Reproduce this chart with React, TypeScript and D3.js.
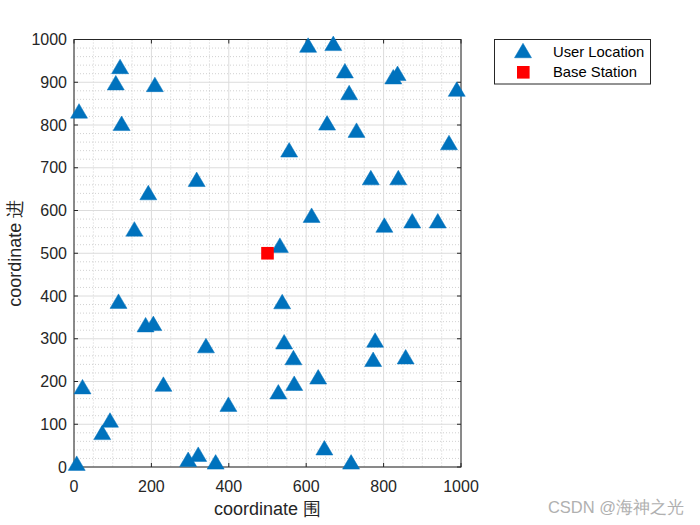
import React from "react";
import * as d3 from "d3";

const userX = [119, 108, 209, 13, 123, 317, 192, 605, 670, 700, 825, 836, 989, 711, 654, 730, 969, 556, 767, 838, 614, 156, 115, 185, 205, 341, 22, 231, 802, 874, 940, 532, 538, 543, 778, 567, 773, 857, 569, 631, 528, 399, 93, 73, 7, 295, 321, 366, 647, 716];
const userY = [937, 899, 895, 833, 804, 673, 642, 987, 991, 927, 913, 921, 884, 876, 805, 788, 759, 742, 677, 677, 589, 557, 388, 333, 336, 284, 188, 194, 566, 576, 576, 519, 387, 293, 297, 256, 252, 258, 196, 211, 176, 147, 110, 81, 9, 18, 30, 12, 45, 12];
const baseX = [500];
const baseY = [500];
const xTicks = [0, 200, 400, 600, 800, 1000];
const yTicks = [0, 100, 200, 300, 400, 500, 600, 700, 800, 900, 1000];
const legendLabels = ["User Location", "Base Station"];

const L = 74, R = 461, T = 39.5, B = 467;
const FONT = "'Liberation Sans', Arial, Helvetica, sans-serif";
const AX = "#262626";
const BLUE = "#0072BD";

function tri(cx: number, cy: number, w = 17, h = 14.5) {
  return `M${cx - w / 2},${cy + h / 2}L${cx + w / 2},${cy + h / 2}L${cx},${cy - h / 2}Z`;
}

export default function App() {
  const x = d3.scaleLinear().domain([0, 1000]).range([L, R]);
  const y = d3.scaleLinear().domain([0, 1000]).range([B, T]);
  const minorX = d3.range(0, 1001, 50).filter((v) => v % 200 !== 0);
  const minorY = d3.range(0, 1001, 20).filter((v) => v % 100 !== 0);

  return (
    <svg width={700} height={525} style={{ position: "absolute", left: 0, top: 0, background: "#fff" }} fontFamily={FONT}>
      <rect x={0} y={0} width={700} height={525} fill="#fff" />
      <rect x={L} y={T} width={R - L} height={B - T} fill="#fff" />
      {/* minor grid */}
      {minorX.map((v) => (
        <line key={"mx" + v} x1={x(v)} x2={x(v)} y1={T} y2={B} stroke="#bdbdbd" strokeWidth={0.7} strokeDasharray="1,2" />
      ))}
      {minorY.map((v) => (
        <line key={"my" + v} x1={L} x2={R} y1={y(v)} y2={y(v)} stroke="#bdbdbd" strokeWidth={0.7} strokeDasharray="1,2" />
      ))}
      {/* major grid */}
      {xTicks.map((v) => (
        <line key={"gx" + v} x1={x(v)} x2={x(v)} y1={T} y2={B} stroke="#dcdcdc" strokeWidth={1} />
      ))}
      {yTicks.map((v) => (
        <line key={"gy" + v} x1={L} x2={R} y1={y(v)} y2={y(v)} stroke="#dcdcdc" strokeWidth={1} />
      ))}
      {/* box */}
      <rect x={L} y={T} width={R - L} height={B - T} fill="none" stroke={AX} strokeWidth={1} />
      {/* ticks */}
      {xTicks.map((v) => (
        <g key={"tx" + v}>
          <line x1={x(v)} x2={x(v)} y1={B} y2={B - 4} stroke={AX} />
          <line x1={x(v)} x2={x(v)} y1={T} y2={T + 4} stroke={AX} />
          <text x={x(v)} y={492} textAnchor="middle" fontSize={16} fill={AX}>{v}</text>
        </g>
      ))}
      {yTicks.map((v) => (
        <g key={"ty" + v}>
          <line x1={L} x2={L + 4} y1={y(v)} y2={y(v)} stroke={AX} />
          <line x1={R} x2={R - 4} y1={y(v)} y2={y(v)} stroke={AX} />
          <text x={67} y={y(v)} dy="0.35em" textAnchor="end" fontSize={16} fill={AX}>{v}</text>
        </g>
      ))}
      {/* axis labels */}
      <text x={(L + R) / 2} y={515} textAnchor="middle" fontSize={18} fill={AX}>coordinate 围</text>
      <text transform={`translate(21,${(T + B) / 2}) rotate(-90)`} textAnchor="middle" fontSize={18} fill={AX}>coordinate 进</text>
      {/* users */}
      {userX.map((v, i) => (
        <path key={"u" + i} d={tri(x(v), y(userY[i]))} fill={BLUE} stroke={BLUE} strokeWidth={0.5} />
      ))}
      {/* base */}
      {baseX.map((v, i) => (
        <rect key={"b" + i} x={x(v) - 6.3} y={y(baseY[i]) - 6.3} width={12.6} height={12.6} fill="#FF0000" />
      ))}
      {/* legend */}
      <rect x={494.5} y={39.5} width={156} height={44.5} fill="#fff" stroke={AX} strokeWidth={1} />
      <path d={tri(523, 50.5)} fill={BLUE} stroke={BLUE} strokeWidth={0.5} />
      <text x={553} y={53} dy="0.3em" fontSize={14.8} fill="#000">{legendLabels[0]}</text>
      <rect x={517} y={66} width={12.6} height={12.6} fill="#FF0000" />
      <text x={553} y={73} dy="0.3em" fontSize={14.8} fill="#000">{legendLabels[1]}</text>
      {/* watermark */}
      <text x={684} y={513} textAnchor="end" fontSize={16.5} fill="#b0b0b0">CSDN @海神之光</text>
    </svg>
  );
}
